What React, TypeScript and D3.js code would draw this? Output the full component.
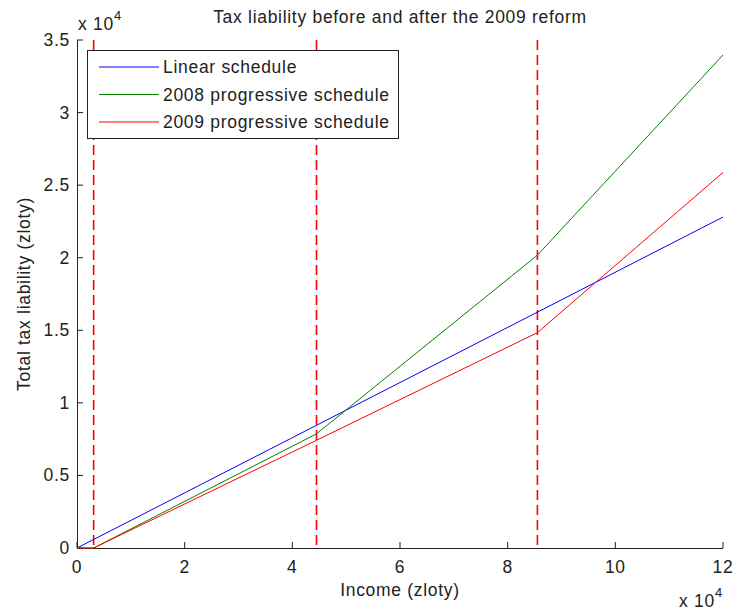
import React from 'react';
import * as d3 from 'd3';

// income breakpoints (zloty) and tax at each breakpoint
const income = [0, 3091, 44490, 85528, 120000];
const linearTax = [0, 587, 8453, 16250, 22800];
const tax2008 = [0, 0, 7866, 20177, 33966];
const tax2009 = [0, 0, 7421, 14839, 25870];

const thresholds = [3091, 44490, 85528];
const xTicks = [0, 2, 4, 6, 8, 10, 12];
const yTicks = [0, 0.5, 1, 1.5, 2, 2.5, 3, 3.5];

const seriesNames = ['Linear schedule', '2008 progressive schedule', '2009 progressive schedule'];
const seriesColors = ['#0000ff', '#008000', '#ff0000'];

const W = 733;
const H = 612;
const left = 77, right = 723, top = 40, bottom = 548;
const font = '"Liberation Sans", Arial, sans-serif';

const App: React.FC = () => {
  const x = d3.scaleLinear().domain([0, 120000]).range([left, right]);
  const y = d3.scaleLinear().domain([0, 35000]).range([bottom, top]);

  const line = d3
    .line<[number, number]>()
    .x(d => x(d[0]))
    .y(d => y(d[1]));

  const series = [linearTax, tax2008, tax2009].map(vals =>
    income.map((v, i) => [v, vals[i]] as [number, number])
  );

  const fs = 17.5;
  const ls = 0.7;

  return (
    <svg width={W} height={H} style={{ position: 'absolute', left: 0, top: 0, background: '#fff' }}>
      <rect x={0} y={0} width={W} height={H} fill="#fff" />

      {/* axes */}
      <line x1={left} x2={right} y1={bottom + 0.5} y2={bottom + 0.5} stroke="#222" />
      <line x1={left + 0.5} x2={left + 0.5} y1={top} y2={bottom} stroke="#222" />

      {xTicks.map(t => (
        <g key={'x' + t}>
          <line x1={x(t * 1e4)} x2={x(t * 1e4)} y1={bottom} y2={bottom - 6} stroke="#222" />
          <text x={x(t * 1e4)} y={bottom + 25} textAnchor="middle" fontFamily={font} fontSize={fs} letterSpacing={ls} fill="#222">
            {t}
          </text>
        </g>
      ))}
      {yTicks.map(t => (
        <g key={'y' + t}>
          <line x1={left} x2={left + 6} y1={y(t * 1e4)} y2={y(t * 1e4)} stroke="#222" />
          <text x={left - 7} y={y(t * 1e4) + 6} textAnchor="end" fontFamily={font} fontSize={fs} letterSpacing={ls} fill="#222">
            {t}
          </text>
        </g>
      ))}

      {/* threshold markers */}
      {thresholds.map(t => (
        <line key={t} x1={x(t)} x2={x(t)} y1={top} y2={bottom} stroke="#ff0000" strokeWidth={1.6} strokeDasharray="10,5" />
      ))}

      {series.map((s, i) => (
        <path key={i} d={line(s) || ''} fill="none" stroke={seriesColors[i]} strokeWidth={1} />
      ))}

      {/* legend */}
      <rect x={87.5} y={50.5} width={311} height={88} fill="#fff" stroke="#222" />
      {seriesNames.map((n, i) => (
        <g key={n}>
          <line x1={99} x2={159} y1={67 + i * 27.5} y2={67 + i * 27.5} stroke={seriesColors[i]} />
          <text x={163} y={73 + i * 27.5} fontFamily={font} fontSize={fs} letterSpacing={ls} fill="#222">
            {n}
          </text>
        </g>
      ))}

      {/* labels */}
      <text x={(left + right) / 2} y={23} textAnchor="middle" fontFamily={font} fontSize={fs} letterSpacing={ls} fill="#222">
        Tax liability before and after the 2009 reform
      </text>
      <text x={(left + right) / 2} y={596} textAnchor="middle" fontFamily={font} fontSize={fs} letterSpacing={ls} fill="#222">
        Income (zloty)
      </text>
      <text transform={`translate(30,${(top + bottom) / 2}) rotate(-90)`} textAnchor="middle" fontFamily={font} fontSize={fs} letterSpacing={ls} fill="#222">
        Total tax liability (zloty)
      </text>

      <text x={78} y={30} fontFamily={font} fontSize={fs} letterSpacing={ls} fill="#222">
        x 10<tspan dy={-10} fontSize={13}>4</tspan>
      </text>
      <text x={679} y={607} fontFamily={font} fontSize={fs} letterSpacing={ls} fill="#222">
        x 10<tspan dy={-10} fontSize={13}>4</tspan>
      </text>
    </svg>
  );
};

export default App;
